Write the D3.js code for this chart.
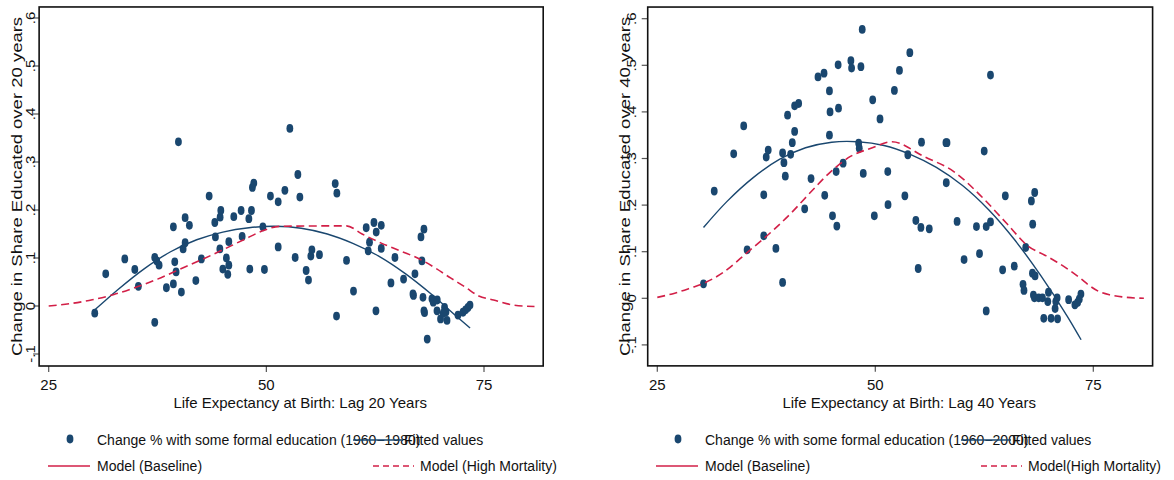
<!DOCTYPE html>
<html>
<head>
<meta charset="utf-8">
<script src="https://cdn.jsdelivr.net/npm/d3@7"></script>
<style>
  body { margin: 0; background: #fff; }
  text { font-family: "Liberation Sans", Arial, sans-serif; fill: #111; }
</style>
</head>
<body>
<svg id="chart" width="1174" height="480"></svg>
<script>
// Axis ticks
const xTickValues = [25, 50, 75];
const yTickValues = [-0.1, 0, 0.1, 0.2, 0.3, 0.4, 0.5, 0.6];
const yTickLabels = ["-.1", "0", ".1", ".2", ".3", ".4", ".5", ".6"];

// Country observations, 1960-1980: life expectancy (lag 20) vs change in share educated
const lifeExp20 = [30.29,31.55,33.74,34.89,35.30,37.18,37.18,37.41,37.68,38.52,39.32,39.48,39.63,39.32,39.90,40.24,40.44,40.67,40.67,41.16,41.90,42.54,43.43,44.08,44.15,44.69,44.77,44.66,45.00,45.41,45.69,45.69,45.57,46.26,47.10,47.22,47.99,48.29,48.10,48.40,48.56,49.60,49.78,50.47,51.36,51.36,52.13,52.70,53.62,53.85,53.31,54.57,54.84,55.11,55.23,56.10,57.91,58.10,58.06,59.21,60.01,61.47,62.36,63.20,62.62,61.85,61.70,63.20,62.59,64.31,64.77,65.76,67.07,66.84,66.90,67.76,68.10,67.87,67.99,68.10,68.17,68.48,69.02,69.17,69.63,69.60,70.01,70.47,70.63,70.75,70.32,72.01,72.59,72.89,73.16,73.39];
const eduChange20 = [-0.015,0.067,0.098,0.076,0.041,-0.034,0.101,0.094,0.085,0.038,0.165,0.092,0.071,0.046,0.342,0.029,0.119,0.132,0.184,0.168,0.053,0.098,0.229,0.174,0.144,0.185,0.199,0.119,0.077,0.100,0.134,0.085,0.066,0.186,0.199,0.145,0.182,0.199,0.077,0.247,0.256,0.165,0.076,0.229,0.217,0.123,0.241,0.370,0.274,0.227,0.101,0.074,0.054,0.104,0.117,0.107,0.255,0.235,-0.021,0.095,0.031,0.163,0.174,0.168,0.154,0.133,0.115,0.120,-0.010,0.048,0.101,0.056,0.067,0.025,0.022,0.144,0.160,0.094,0.018,-0.010,-0.014,-0.069,0.015,0.008,0.0125,-0.010,-0.027,-0.003,-0.0125,-0.030,-0.015,-0.019,-0.013,-0.008,-0.003,0.002];

// Fitted values, 1960-1980
const fitLife20 = [30.3,33,36,39,42,45,48,51,54,57,60,63,66,69,72,73.4];
const fitEdu20 = [-0.008,0.035,0.078,0.113,0.138,0.154,0.163,0.166,0.162,0.150,0.130,0.103,0.067,0.024,-0.024,-0.046];

// Model (High Mortality), 20-year lag
const highMortLife20 = [25,27.5,30,32.5,35,37.5,40,42.5,45,47.5,49.5,51.6,59.2,61,63.2,65.5,67.7,69.5,71.2,72.8,74.4,76.1,78.4,80.8];
const highMortEdu20 = [0.000,0.005,0.013,0.024,0.039,0.056,0.076,0.096,0.117,0.139,0.156,0.166,0.167,0.150,0.131,0.114,0.097,0.078,0.058,0.040,0.021,0.0125,0.002,-0.001];

// Country observations, 1960-2000: life expectancy (lag 40) vs change in share educated
const lifeExp40 = [30.30,31.53,33.76,34.91,35.30,37.21,37.21,37.49,37.72,38.60,39.37,39.37,39.52,39.68,39.94,40.29,40.48,40.75,40.75,41.21,41.90,42.63,43.43,44.12,44.20,44.74,44.81,44.74,45.09,45.59,45.51,45.78,45.74,46.31,47.20,47.28,48.09,48.16,48.35,48.50,48.62,49.70,49.89,50.54,51.43,51.46,52.19,52.77,53.39,53.73,53.96,54.65,55.23,54.92,55.30,56.19,58.10,58.22,58.14,59.38,60.18,61.60,61.95,62.49,62.72,62.72,63.21,63.21,64.91,64.60,65.94,67.25,67.90,68.28,68.05,68.02,68.32,66.94,67.05,68.13,68.25,68.74,69.17,69.86,69.78,69.32,70.16,70.90,70.62,70.70,70.85,72.17,72.89,73.20,73.58,73.39];
const eduChange40 = [0.031,0.230,0.310,0.370,0.104,0.222,0.134,0.303,0.318,0.107,0.034,0.312,0.291,0.262,0.393,0.309,0.334,0.358,0.413,0.418,0.192,0.257,0.475,0.483,0.221,0.445,0.400,0.350,0.177,0.155,0.272,0.408,0.501,0.290,0.510,0.494,0.333,0.322,0.497,0.577,0.268,0.426,0.177,0.385,0.272,0.201,0.446,0.489,0.220,0.308,0.527,0.167,0.152,0.064,0.335,0.149,0.334,0.334,0.248,0.165,0.083,0.154,0.096,0.316,0.154,-0.027,0.479,0.164,0.220,0.061,0.069,0.109,0.209,0.227,0.159,0.054,0.048,0.030,0.017,0.007,0.001,0.001,0.001,0.013,-0.007,-0.043,-0.043,-0.044,-0.022,-0.007,0.001,-0.003,-0.014,-0.009,0.009,-0.002];

// Fitted values, 1960-2000
const fitLife40 = [30.3,33,36,39,42,45,48,51,54,57,60,63,66,69,72,73.6];
const fitEdu40 = [0.152,0.208,0.259,0.298,0.323,0.335,0.336,0.328,0.309,0.281,0.242,0.190,0.125,0.048,-0.038,-0.089];

// Model (High Mortality), 40-year lag
const highMortLife40 = [25,27,28.8,30.3,32.6,35.3,38.4,40.3,42.6,44.9,47.2,49.5,51.9,55.6,59.0,62.2,65.0,67.6,69.5,70.8,72.2,73.5,74.5,75.6,77,78.3,80.8];
const highMortEdu40 = [0.002,0.011,0.022,0.032,0.056,0.098,0.148,0.182,0.228,0.272,0.305,0.322,0.336,0.304,0.272,0.218,0.162,0.111,0.092,0.078,0.061,0.043,0.028,0.015,0.007,0.003,0.000];

const NAVY = "#1a476f";
const RED = "#d21f47";

const panels = [
  {
    life: lifeExp20, edu: eduChange20,
    fitX: fitLife20, fitY: fitEdu20,
    hmX: highMortLife20, hmY: highMortEdu20,
    xRange: [48.7, 484], yRange: [306, 18],
    xLimits: [23.9, 81.8], yLimits: [-0.125, 0.623],
    yTitle: "Change in Share Educated over 20 years",
    xTitle: "Life Expectancy at Birth: Lag 20 Years",
    dotLabel: "Change % with some formal education (1960\u22121980)",
    hmLabel: "Model (High Mortality)",
    tickLabelX: 35, yTitleX: 22, dx: 0
  },
  {
    life: lifeExp40, edu: eduChange40,
    fitX: fitLife40, fitY: fitEdu40,
    hmX: highMortLife40, hmY: highMortEdu40,
    xRange: [657.3, 1093.3], yRange: [298.3, 18.7],
    xLimits: [23.9, 81.8], yLimits: [-0.145, 0.625],
    yTitle: "Change in Share Educated over 40 years",
    xTitle: "Life Expectancy at Birth: Lag 40 Years",
    dotLabel: "Change % with some formal education (1960\u22122000)",
    hmLabel: "Model(High Mortality)",
    tickLabelX: 636, yTitleX: 630, dx: 608
  }
];

const svg = d3.select("#chart");

panels.forEach(p => {
  const x = d3.scaleLinear().domain([25, 75]).range(p.xRange);
  const y = d3.scaleLinear().domain([0, 0.6]).range(p.yRange);
  const g = svg.append("g");

  const left = x(p.xLimits[0]), right = x(p.xLimits[1]);
  const top = y(p.yLimits[1]), bottom = y(p.yLimits[0]);

  // y ticks and rotated labels
  yTickValues.forEach((v, i) => {
    g.append("line")
      .attr("x1", left - 6).attr("x2", left)
      .attr("y1", y(v)).attr("y2", y(v))
      .attr("stroke", "#555").attr("stroke-width", 1.2);
    g.append("text")
      .attr("transform", `translate(${p.tickLabelX},${y(v)}) rotate(-90) scale(1,0.8)`)
      .attr("text-anchor", "middle")
      .style("font-size", "15px")
      .text(yTickLabels[i]);
  });

  // x ticks and labels
  xTickValues.forEach(v => {
    g.append("line")
      .attr("x1", x(v)).attr("x2", x(v))
      .attr("y1", bottom).attr("y2", bottom + 6)
      .attr("stroke", "#555").attr("stroke-width", 1.2);
    g.append("text")
      .attr("x", x(v)).attr("y", bottom + 24)
      .attr("text-anchor", "middle")
      .style("font-size", "15px")
      .text(v);
  });

  // axis titles
  g.append("text")
    .attr("transform", `translate(${p.yTitleX},${(top + bottom) / 2}) rotate(-90) scale(1,0.82)`)
    .attr("text-anchor", "middle")
    .style("font-size", "18.5px")
    .text(p.yTitle);
  g.append("text")
    .attr("x", (left + right) / 2 + 9).attr("y", bottom + 42)
    .attr("text-anchor", "middle")
    .style("font-size", "15px")
    .text(p.xTitle);

  // scatter
  g.append("g").selectAll("ellipse")
    .data(p.life.map((v, i) => [v, p.edu[i]]))
    .join("ellipse")
    .attr("cx", d => x(d[0])).attr("cy", d => y(d[1]))
    .attr("rx", 3.4).attr("ry", 4.4)
    .attr("fill", NAVY);

  // fitted values
  const fitLine = d3.line().x(d => x(d[0])).y(d => y(d[1])).curve(d3.curveCatmullRom);
  g.append("path")
    .attr("d", fitLine(p.fitX.map((v, i) => [v, p.fitY[i]])))
    .attr("fill", "none").attr("stroke", NAVY).attr("stroke-width", 1.4);

  // high-mortality model
  const hmLine = d3.line().x(d => x(d[0])).y(d => y(d[1])).curve(d3.curveMonotoneX);
  g.append("path")
    .attr("d", hmLine(p.hmX.map((v, i) => [v, p.hmY[i]])))
    .attr("fill", "none").attr("stroke", RED).attr("stroke-width", 1.6)
    .attr("stroke-dasharray", "8,4.5");

  // plot frame
  g.append("rect")
    .attr("x", left).attr("y", top)
    .attr("width", right - left).attr("height", bottom - top)
    .attr("fill", "none").attr("stroke", "#111").attr("stroke-width", 1.6);

  // legend
  const L = g.append("g").attr("transform", `translate(${p.dx},0)`);
  L.append("ellipse").attr("cx", 70).attr("cy", 439).attr("rx", 3.4).attr("ry", 4.4).attr("fill", NAVY);
  L.append("text").attr("x", 97).attr("y", 445).style("font-size", "14px").text(p.dotLabel);
  L.append("line").attr("x1", 353).attr("x2", 403).attr("y1", 440).attr("y2", 440)
    .attr("stroke", NAVY).attr("stroke-width", 1.4);
  L.append("text").attr("x", 404).attr("y", 445).style("font-size", "14px").text("Fitted values");

  L.append("line").attr("x1", 48).attr("x2", 90).attr("y1", 466).attr("y2", 466)
    .attr("stroke", RED).attr("stroke-width", 1.6);
  L.append("text").attr("x", 97).attr("y", 471).style("font-size", "14px").text("Model (Baseline)");
  L.append("line").attr("x1", 373).attr("x2", 414).attr("y1", 466).attr("y2", 466)
    .attr("stroke", RED).attr("stroke-width", 1.6).attr("stroke-dasharray", "6,4");
  L.append("text").attr("x", 420).attr("y", 471).style("font-size", "14px").text(p.hmLabel);
});
</script>
</body>
</html>
